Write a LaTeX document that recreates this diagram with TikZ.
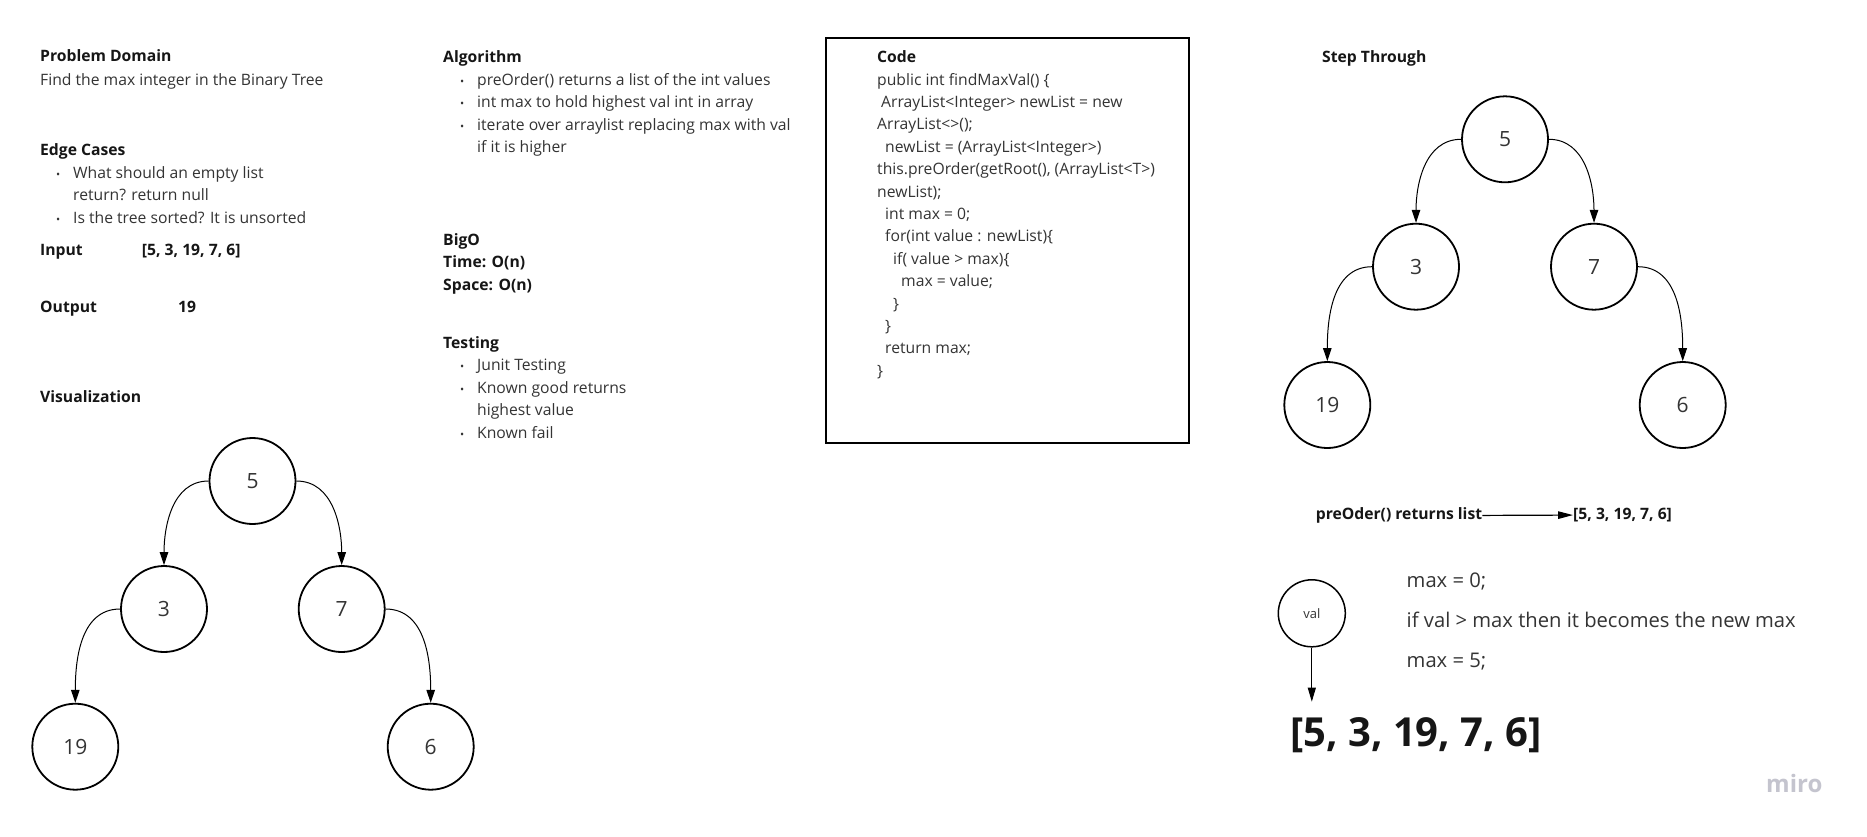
\documentclass[tikz,border=0pt]{standalone}
\usepackage{fontspec}
\setmainfont{Open Sans}
\usetikzlibrary{arrows.meta}
\definecolor{bodytext}{RGB}{52,52,52}
\definecolor{headtext}{RGB}{22,22,22}
\definecolor{mirogray}{RGB}{196,196,206}
\begin{document}
\begin{tikzpicture}[x=1pt,y=1pt,
  txt/.style={anchor=base west, inner sep=0pt, font=\fontsize{15.7}{18}\selectfont, text=bodytext},
  head/.style={anchor=base west, inner sep=0pt, font=\fontsize{15.7}{18}\selectfont\bfseries, text=headtext},
  bul/.style={anchor=base west, inner sep=0pt, font=\fontsize{11}{12}\selectfont, text=bodytext},
  tnode/.style={circle, draw=black, line width=1.8pt, minimum size=86pt, inner sep=0pt, font=\fontsize{21}{24}\selectfont, text=bodytext},
  treearrow/.style={line width=1pt, -{Triangle[length=13pt,width=8.5pt]}},
  bigtxt/.style={anchor=base west, inner sep=0pt, font=\fontsize{20.2}{24}\selectfont, text=bodytext},
]
\fill[white] (0,0) rectangle (1867,-836);
\useasboundingbox (0,0) rectangle (1867,-836);

% ---------- Left column ----------
\node[head] (pdh) at (40,-61.7) {Problem Domain};
\node[txt]  (pdt) at (40,-85) {Find the max integer in the Binary Tree};
\node[head] (ech) at (40,-155) {Edge Cases};
\node[bul]  (ecb1) at (56,-178) {•};
\node[txt]  (ec1) at (73,-178) {What should an empty list};
\node[txt]  (ec1b) at (73,-200.5) {return? return null};
\node[bul]  (ecb2) at (56,-223) {•};
\node[txt]  (ec2) at (73,-223) {Is the tree sorted? It is unsorted};
\node[head] (inh) at (40,-255) {Input};
\node[head] (inv) at (141.7,-255) {[5, 3, 19, 7, 6]};
\node[head] (outh) at (40,-312) {Output};
\node[head] (outv) at (178,-312) {19};
\node[head] (vish) at (40,-402) {Visualization};

% left tree
\node[tnode] (a5)  at (252.5,-481) {5};
\node[tnode] (a3)  at (164,-609) {3};
\node[tnode] (a7)  at (341.7,-609) {7};
\node[tnode] (a19) at (75.3,-746.7) {19};
\node[tnode] (a6)  at (430.7,-746.7) {6};
\draw[treearrow] (a5.west) to[out=180,in=90] (a3.north);
\draw[treearrow] (a5.east) to[out=0,in=90] (a7.north);
\draw[treearrow] (a3.west) to[out=180,in=90] (a19.north);
\draw[treearrow] (a7.east) to[out=0,in=90] (a6.north);

% ---------- Algorithm column ----------
\node[head] (algh) at (443,-62) {Algorithm};
\node[bul]  (algb1) at (460,-85) {•};
\node[txt]  (alg1) at (477,-85) {preOrder() returns a list of the int values};
\node[bul]  (algb2) at (460,-107.5) {•};
\node[txt]  (alg2) at (477,-107.5) {int max to hold highest val int in array};
\node[bul]  (algb3) at (460,-130) {•};
\node[txt]  (alg3) at (477,-130) {iterate over arraylist replacing max with val};
\node[txt]  (alg3b) at (477,-152.7) {if it is higher};
\node[head] (bigo) at (443,-245) {BigO};
\node[head] (time) at (443,-267) {Time: O(n)};
\node[head] (space) at (443,-290) {Space: O(n)};
\node[head] (testh) at (443,-348) {Testing};
\node[bul]  (tb1) at (460,-370) {•};
\node[txt]  (t1) at (477,-370) {Junit Testing};
\node[bul]  (tb2) at (460,-393) {•};
\node[txt]  (t2) at (477,-393) {Known good returns};
\node[txt]  (t2b) at (477,-415) {highest value};
\node[bul]  (tb3) at (460,-438) {•};
\node[txt]  (t3) at (477,-438) {Known fail};

% ---------- Code box ----------
\node[draw=black, line width=2pt, anchor=north west, minimum width=363pt, minimum height=405pt, inner sep=0pt] (codebox) at (825,-37) {};
\node[head] (codeh) at (877,-62) {Code};
\node[txt] (c1)  at (877,-85)    {public int findMaxVal() \{};
\node[txt] (c2)  at (881,-107.4) {ArrayList<Integer> newList = new};
\node[txt] (c3)  at (877,-129.8) {ArrayList<>();};
\node[txt] (c4)  at (885,-152.2) {newList = (ArrayList<Integer>)};
\node[txt] (c5)  at (877,-174.6) {this.preOrder(getRoot(), (ArrayList<T>)};
\node[txt] (c6)  at (877,-197)   {newList);};
\node[txt] (c7)  at (885,-219.4) {int max = 0;};
\node[txt] (c8)  at (885,-241.8) {for(int value : newList)\{};
\node[txt] (c9)  at (893,-264.2) {if( value > max)\{};
\node[txt] (c10) at (901,-286.6) {max = value;};
\node[txt] (c11) at (893,-309)   {\}};
\node[txt] (c12) at (885,-331.4) {\}};
\node[txt] (c13) at (885,-353.8) {return max;};
\node[txt] (c14) at (877,-376.2) {\}};

% ---------- Step Through ----------
\node[head] (steph) at (1322,-62) {Step Through};
\node[tnode] (b5)  at (1505,-139.3) {5};
\node[tnode] (b3)  at (1416,-266.7) {3};
\node[tnode] (b7)  at (1594,-266.7) {7};
\node[tnode] (b19) at (1327.3,-405) {19};
\node[tnode] (b6)  at (1682.7,-405) {6};
\draw[treearrow] (b5.west) to[out=180,in=90] (b3.north);
\draw[treearrow] (b5.east) to[out=0,in=90] (b7.north);
\draw[treearrow] (b3.west) to[out=180,in=90] (b19.north);
\draw[treearrow] (b7.east) to[out=0,in=90] (b6.north);

\node[head] (pre) at (1315.6,-519.5) {preOder() returns list};
\node[head] (prelist) at (1573,-519.5) {[5, 3, 19, 7, 6]};
\draw[line width=1.2pt, -{Triangle[length=15pt,width=7.5pt]}] (pre.east) -- (prelist.west);

\node[circle, draw=black, line width=1.5pt, minimum size=67pt, inner sep=0pt, font=\fontsize{13}{15}\selectfont, text=bodytext] (val) at (1311.8,-613.3) {val};
\coordinate (valend) at (1311.8,-701.7);
\draw[line width=1pt, -{Triangle[length=14pt,width=8pt]}] (val.south) -- (valend);

\node[bigtxt] (m0) at (1406.5,-587) {max = 0;};
\node[bigtxt] (mif) at (1406.5,-627) {if val > max then it becomes the new max};
\node[bigtxt] (m5) at (1406.5,-667) {max = 5;};

\node[anchor=base west, inner sep=0pt, font=\fontsize{40}{46}\selectfont\bfseries, text=headtext] (biglist) at (1290,-746) {[5, 3, 19, 7, 6]};

\node[anchor=base west, inner sep=0pt, font=\fontsize{24}{28}\selectfont\bfseries, text=mirogray] (miro) at (1766,-792) {miro};
\end{tikzpicture}
\end{document}
